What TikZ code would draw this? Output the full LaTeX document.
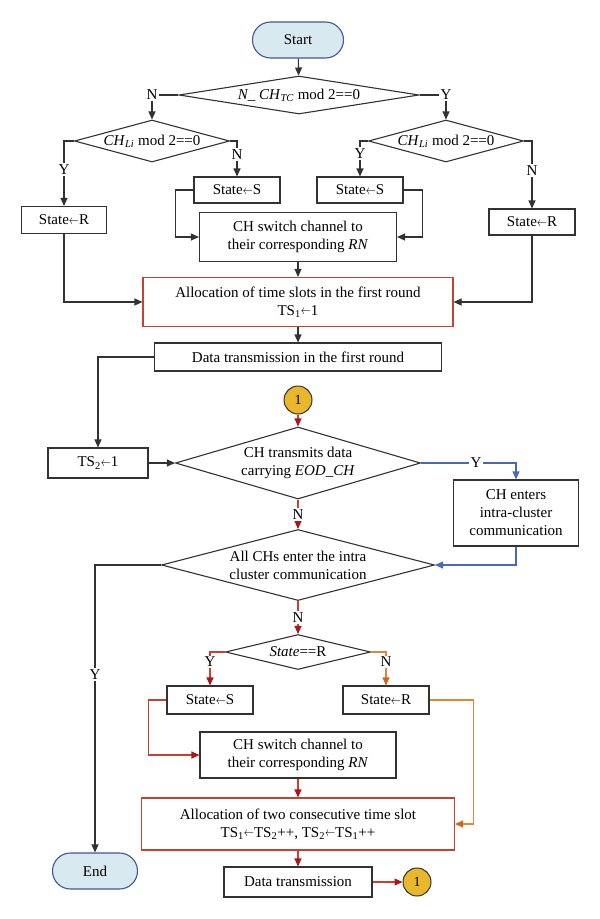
\documentclass[tikz,border=0pt]{standalone}
\usepackage{fontspec}
\setmainfont{Liberation Serif}
\usetikzlibrary{shapes.geometric,arrows.meta}
\definecolor{boxline}{RGB}{50,50,50}
\definecolor{termline}{RGB}{62,88,150}
\definecolor{termfill}{RGB}{216,233,240}
\definecolor{gold}{RGB}{232,183,44}
\definecolor{redline}{RGB}{196,66,46}
\definecolor{redtip}{RGB}{168,22,26}
\definecolor{orline}{RGB}{222,136,60}
\definecolor{ortip}{RGB}{204,104,30}
\definecolor{blueline}{RGB}{72,106,182}
\newcommand{\getsarr}{\raisebox{0.1ex}{\scalebox{0.7}[0.9]{$\leftarrow$}}}
\tikzset{
	procbox/.style={rectangle, draw=boxline, line width=1.1pt, align=center, inner sep=2pt},
	redbox/.style={procbox, draw=redline},
	decbox/.style={diamond, draw=boxline, line width=1.1pt, align=center, inner xsep=-4pt, inner ysep=-3pt},
	termbox/.style={rectangle, rounded corners=18pt, draw=termline, fill=termfill, line width=1.1pt, minimum width=91pt, minimum height=36pt},
	connbox/.style={circle, draw=boxline, fill=gold, line width=1pt, minimum size=28pt, inner sep=0pt, font=\fontsize{14}{16}\selectfont},
	lbl/.style={fill=white, inner sep=1.5pt},
	arr/.style={draw=boxline, line width=1.1pt, -{Triangle[length=8pt,width=7pt]}},
	redarr/.style={arr, draw=redline, -{Triangle[length=8pt,width=7pt,color=redtip]}},
	orarr/.style={arr, draw=orline, -{Triangle[length=8pt,width=7pt,color=ortip]}},
	bluearr/.style={arr, draw=blueline, -{Triangle[length=8pt,width=7pt]}}
}

\begin{document}
\begin{tikzpicture}[x=1pt,y=-1pt,font=\fontsize{15}{18}\selectfont]
			%%%%% START %%%%%
			\useasboundingbox (0,0) rectangle (600,919);
			
			% first round
			\node[termbox] (start) at (298,40) {Start};
			\node[decbox, minimum width=240pt, minimum height=38pt, shape aspect=6.3] (tcmod) at (299,95) {\textit{N\_ CH}\textsubscript{\textit{TC}} mod 2==0};
			\node[decbox, minimum width=155pt, minimum height=42pt, shape aspect=3.7] (limodl) at (152,141) {\textit{CH}\textsubscript{\textit{Li}} mod 2==0};
			\node[decbox, minimum width=155pt, minimum height=42pt, shape aspect=3.7] (limodr) at (446,141) {\textit{CH}\textsubscript{\textit{Li}} mod 2==0};
			
			\node[procbox, minimum width=85pt, minimum height=27pt] (setrl) at (64,220) {State\getsarr R};
			\node[procbox, minimum width=86pt, minimum height=26pt] (setsl) at (237,190) {State\getsarr S};
			\node[procbox, minimum width=86pt, minimum height=26pt] (setsr) at (360,190) {State\getsarr S};
			\node[procbox, minimum width=86pt, minimum height=26pt] (setrr) at (532,222) {State\getsarr R};
			
			\node[procbox, minimum width=197pt, minimum height=49pt] (switcha) at (298,237) {CH switch channel to\\their corresponding \textit{RN}};
			\node[redbox, minimum width=310pt, minimum height=49pt] (alloca) at (298,302) {Allocation of time slots in the first round\\TS\textsubscript{1}\getsarr 1};
			\node[procbox, minimum width=287pt, minimum height=28pt] (dataa) at (298,357) {Data transmission in the first round};
			
			% later rounds
			\node[connbox] (cona) at (298,400) {1};
			\node[procbox, minimum width=100pt, minimum height=30pt] (tstwo) at (98,463) {TS\textsubscript{2}\getsarr 1};
			\node[decbox, minimum width=245pt, minimum height=72pt, shape aspect=3.4] (eod) at (298,463) {CH transmits data\\carrying \textit{EOD\_CH}};
			\node[procbox, minimum width=125pt, minimum height=66pt] (enters) at (516,513) {CH enters\\intra-cluster\\communication};
			\node[decbox, minimum width=273pt, minimum height=71pt, shape aspect=3.85] (allch) at (298,565) {All CHs enter the intra\\cluster communication};
			\node[decbox, minimum width=145pt, minimum height=35pt, shape aspect=4.14] (isr) at (298,652) {\textit{State}==R};
			
			\node[procbox, minimum width=86pt, minimum height=28pt] (setsb) at (210,700) {State\getsarr S};
			\node[procbox, minimum width=86pt, minimum height=28pt] (setrb) at (386,700) {State\getsarr R};
			\node[procbox, minimum width=196pt, minimum height=46pt] (switchb) at (298,755) {CH switch channel to\\their corresponding \textit{RN}};
			\node[redbox, minimum width=313pt, minimum height=52pt] (allocb) at (298,824) {Allocation of two consecutive time slot\\TS\textsubscript{1}\getsarr TS\textsubscript{2}++, TS\textsubscript{2}\getsarr TS\textsubscript{1}++};
			\node[procbox, minimum width=148pt, minimum height=30pt] (datab) at (298,882) {Data transmission};
			\node[connbox] (conb) at (417,882) {1};
			\node[termbox, minimum width=85pt] (end) at (95,871) {End};
			
			% connectors, first round
			\draw[arr] (start) -- (tcmod);
			\draw[arr] (tcmod.west) -| node[lbl, pos=0.5] {N} (limodl.north);
			\draw[arr] (tcmod.east) -| node[lbl, pos=0.5] {Y} (limodr.north);
			\draw[arr] (limodl.west) -| node[lbl, pos=0.72] {Y} (setrl.north);
			\draw[arr] (limodl.east) -| node[lbl, pos=0.69] {N} (setsl.north);
			\draw[arr] (limodr.west) -| node[lbl, pos=0.68] {Y} (setsr.north);
			\draw[arr] (limodr.east) -| node[lbl, pos=0.72] {N} (setrr.north);
			\draw[arr] (setsl.west) -- ++(-18,0) |- (switcha.west);
			\draw[arr] (setsr.east) -- ++(19,0) |- (switcha.east);
			\draw[arr] (setrl.south) |- (alloca.west);
			\draw[arr] (setrr.south) |- (alloca.east);
			\draw[arr] (switcha) -- (alloca);
			\draw[arr] (alloca) -- (dataa);
			\draw[arr] (dataa.west) -| (tstwo.north);
			\draw[arr] (tstwo.east) -- (eod.west);
			
			% connectors, later rounds
			\draw[redarr] (cona) -- (eod.north);
			\draw[bluearr] (eod.east) -| node[lbl, pos=0.29] {Y} (enters.north);
			\draw[bluearr] (enters.south) |- (allch.east);
			\draw[redarr] (eod.south) -- node[lbl] {N} (allch.north);
			\draw[arr] (allch.west) -| node[lbl, pos=0.69] {Y} (end.north);
			\draw[redarr] (allch.south) -- node[lbl] {N} (isr.north);
			\draw[redarr] (isr.west) -| node[lbl, pos=0.65] {Y} (setsb.north);
			\draw[orarr] (isr.east) -| node[lbl, pos=0.65] {N} (setrb.north);
			\draw[redarr] (setsb.west) -- ++(-18,0) |- (switchb.west);
			\draw[orarr] (setrb.east) -- ++(44,0) |- (allocb.east);
			\draw[redarr] (switchb) -- (allocb);
			\draw[redarr] (allocb) -- (datab);
			\draw[redarr] (datab) -- (conb);
			
			%%%%% END %%%%%
\end{tikzpicture}
\end{document}
